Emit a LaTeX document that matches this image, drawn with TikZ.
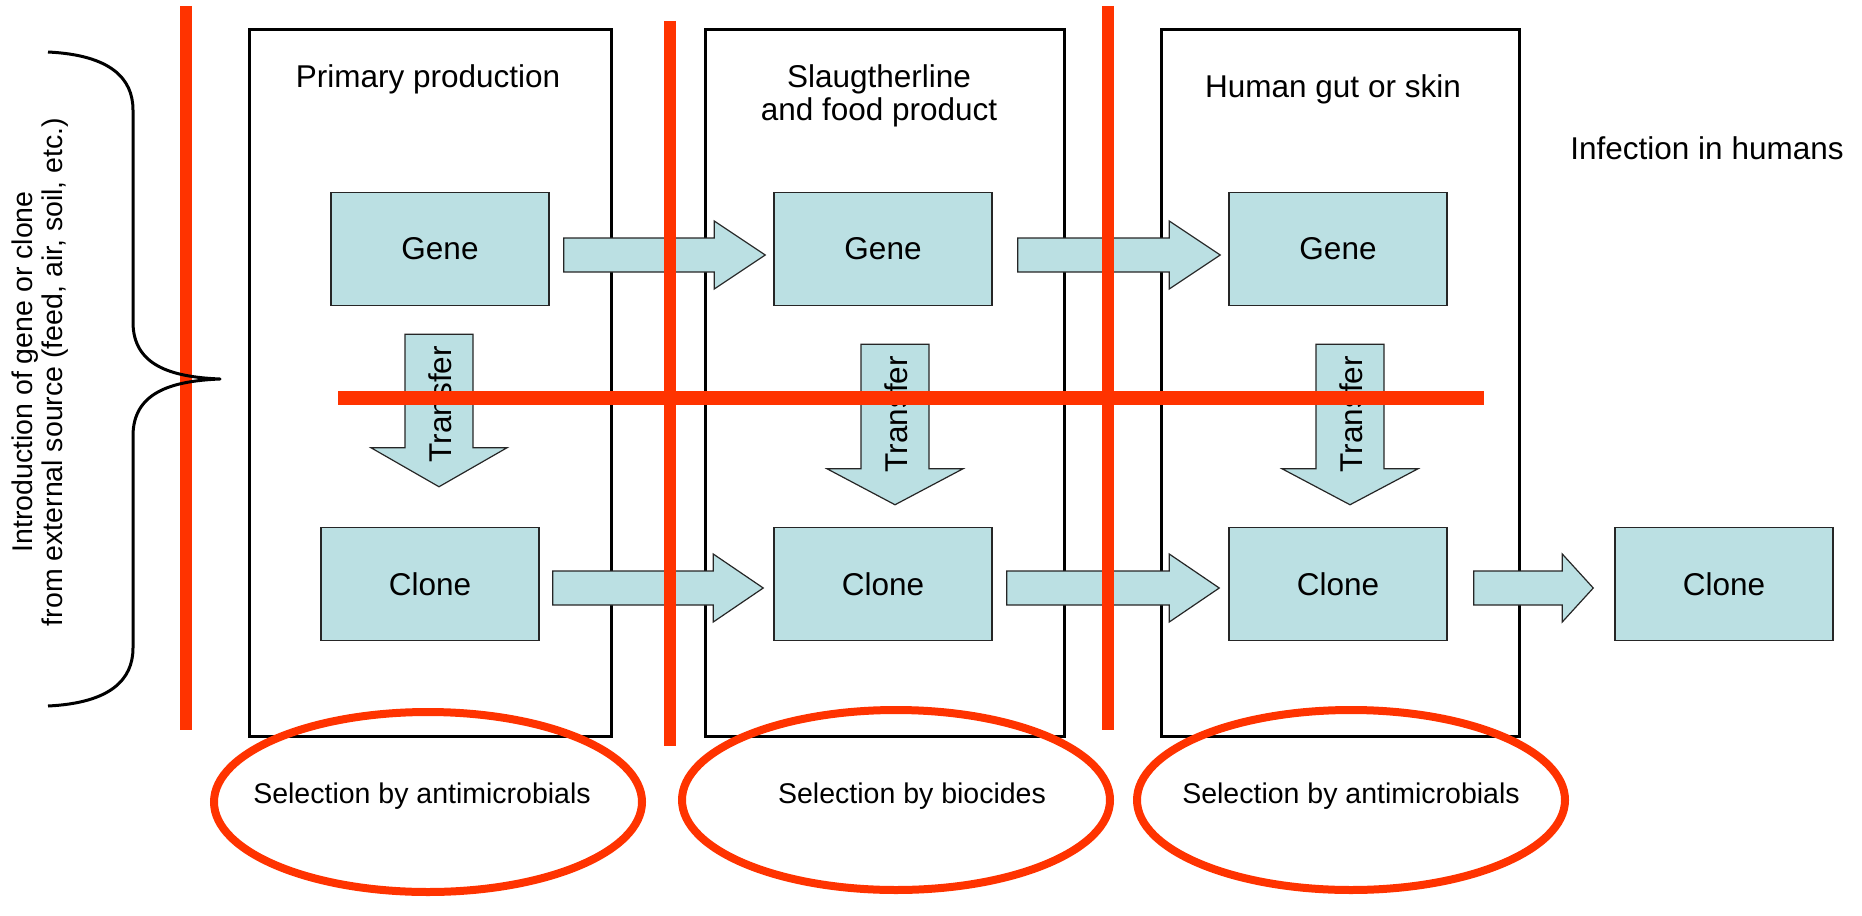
\documentclass[tikz,border=0pt]{standalone}
\usepackage{fontspec}
\setmainfont{Liberation Sans}
\usetikzlibrary{calc}
\definecolor{cellblue}{RGB}{187,224,227}
\definecolor{redline}{RGB}{255,51,0}
\newcommand\titlefont{\fontsize{31.5}{33}\selectfont}
\newcommand\smallfont{\fontsize{28.5}{29.5}\selectfont}
% horizontal block arrow: from, to, half shaft, head length
\newcommand\myharrow[4]{\draw[blockarrow] let \p1=(#1), \p2=(#2) in
  (\x1,\y1+#3) -- (\x2-#4,\y1+#3) -- (\x2-#4,\y1+2*#3) -- (\x2,\y1)
  -- (\x2-#4,\y1-2*#3) -- (\x2-#4,\y1-#3) -- (\x1,\y1-#3) -- cycle;}
% vertical (downward) block arrow: from, to, half shaft, head length
\newcommand\myvarrow[4]{\draw[blockarrow] let \p1=(#1), \p2=(#2) in
  (\x1-#3,\y1) -- (\x1-#3,\y2+#4) -- (\x1-2*#3,\y2+#4) -- (\x1,\y2)
  -- (\x1+2*#3,\y2+#4) -- (\x1+#3,\y2+#4) -- (\x1+#3,\y1) -- cycle;}
\tikzset{
  stage/.style={draw=black, line width=3pt},
  cell/.style={draw=black!85, line width=1.5pt, fill=cellblue, minimum width=218pt,
    minimum height=113pt, inner sep=0pt, font=\titlefont},
  blockarrow/.style={draw=black!85, line width=1.2pt, fill=cellblue},
  redbar/.style={draw=redline, line width=12pt},
  redring/.style={draw=redline, line width=8pt},
  title/.style={font=\titlefont, inner sep=0pt},
  seltext/.style={font=\smallfont, inner sep=0pt, anchor=base},
}
\begin{document}
\begin{tikzpicture}[x=1pt, y=-1pt]
\useasboundingbox (0,0) rectangle (1862,915);

% stage frames
\draw[stage] (249,30) rectangle (611,736);
\draw[stage] (705,30) rectangle (1064,736);
\draw[stage] (1161,30) rectangle (1519,736);

% titles
\node[title, anchor=base] (t1) at (428,88) {Primary production};
\node[title, align=center] (t2) at (879,95.5) {Slaugtherline\\and food product};
\node[title, anchor=base] (t3) at (1333,98) {Human gut or skin};
\node[title, anchor=base] (t4) at (1707,159) {Infection in humans};

% gene and clone cells
\node[cell] (g1) at (440,249) {Gene};
\node[cell] (g2) at (883,249) {Gene};
\node[cell] (g3) at (1338,249) {Gene};
\node[cell] (c1) at (430,584) {Clone};
\node[cell] (c2) at (883,584) {Clone};
\node[cell] (c3) at (1338,584) {Clone};
\node[cell] (c4) at (1724,584) {Clone};

% arrow end points
\coordinate (a1s) at ($(g1.east)+(14,6)$);
\coordinate (a1e) at ($(g2.west)+(-8,6)$);
\coordinate (a2s) at ($(g2.east)+(25,6)$);
\coordinate (a2e) at ($(g3.west)+(-8,6)$);
\coordinate (b1s) at ($(c1.east)+(13,4)$);
\coordinate (b1e) at ($(c2.west)+(-10,4)$);
\coordinate (b2s) at ($(c2.east)+(14,4)$);
\coordinate (b2e) at ($(c3.west)+(-9,4)$);
\coordinate (b3s) at ($(c3.east)+(26,4)$);
\coordinate (b3e) at ($(c4.west)+(-21,4)$);
\coordinate (d1s) at ($(g1.south)+(-1,28)$);
\coordinate (d1e) at ($(c1.north)+(9,-40)$);
\coordinate (d2s) at ($(g2.south)+(12,38)$);
\coordinate (d2e) at ($(c2.north)+(12,-22)$);
\coordinate (d3s) at ($(g3.south)+(12,38)$);
\coordinate (d3e) at ($(c3.north)+(12,-22)$);

% horizontal block arrows
\myharrow{a1s}{a1e}{17pt}{51pt}
\myharrow{a2s}{a2e}{17pt}{51pt}
\myharrow{b1s}{b1e}{17pt}{50pt}
\myharrow{b2s}{b2e}{17pt}{50pt}
\myharrow{b3s}{b3e}{17pt}{31pt}

% transfer arrows
\myvarrow{d1s}{d1e}{34pt}{39pt}
\myvarrow{d2s}{d2e}{34pt}{36pt}
\myvarrow{d3s}{d3e}{34pt}{36pt}
\node[title, rotate=90] (tr1) at ($(d1s)+(1,70)$) {Transfer};
\node[title, rotate=90] (tr2) at ($(d2s)+(1,70)$) {Transfer};
\node[title, rotate=90] (tr3) at ($(d3s)+(1,70)$) {Transfer};

% selection ellipses
\draw[redring] (428,802) ellipse [x radius=214pt, y radius=90pt];
\draw[redring] (896,800) ellipse [x radius=214pt, y radius=90pt];
\draw[redring] (1351,800) ellipse [x radius=214pt, y radius=90pt];
\node[seltext] (s1) at (422,803) {Selection by antimicrobials};
\node[seltext] (s2) at (912,803) {Selection by biocides};
\node[seltext] (s3) at (1351,803) {Selection by antimicrobials};

% red barrier lines
\draw[redbar] (186,6) -- (186,730);
\draw[redbar] (670,21) -- (670,746);
\draw[redbar] (1108,6) -- (1108,730);
\draw[redbar, line width=14pt] (338,398) -- (1484,398);

% brace
\draw[line width=3pt, line join=round] (48,52) .. controls (110,55) and (133,78) .. (133,110)
  -- (133,322) .. controls (133,365) and (170,377) .. (220,379)
  .. controls (170,381) and (133,393) .. (133,436)
  -- (133,648) .. controls (133,680) and (110,703) .. (48,706);

% left label
\node[font=\smallfont, align=center, rotate=90, inner sep=0pt] (intro) at (40,372)
  {Introduction of gene or clone\\from external source (feed, air, soil, etc.)};
\end{tikzpicture}
\end{document}
